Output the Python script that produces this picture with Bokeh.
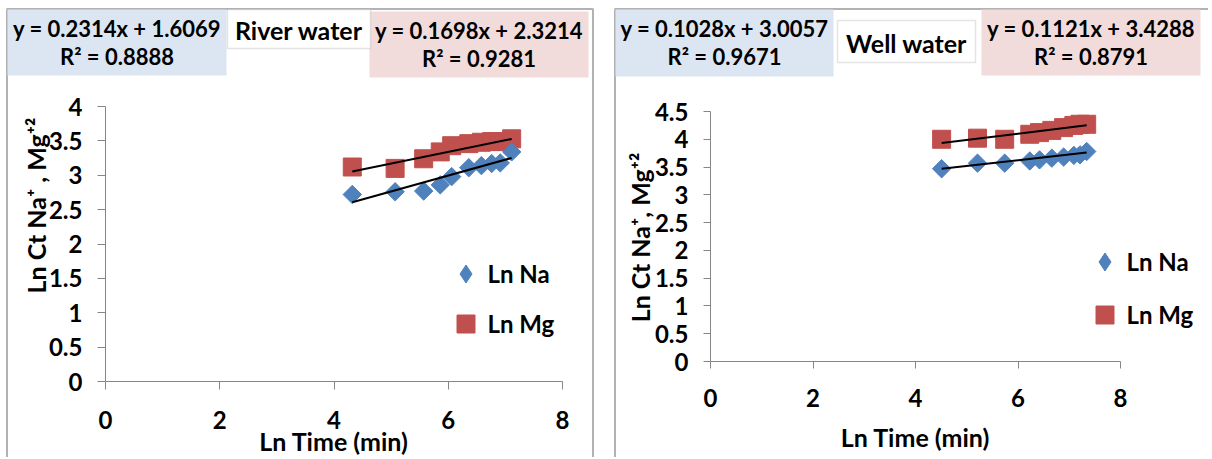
from bokeh.plotting import figure
from bokeh.models import (Range1d, FixedTicker, BoxAnnotation, Label, Legend, LegendItem,
                          ColumnDataSource)
from bokeh.layouts import row
from bokeh.embed import file_html
from bokeh.resources import INLINE
import numpy as np

# ---------------- data ----------------
x_ticks = [0, 2, 4, 6, 8]
x_tick_labels = ["0", "2", "4", "6", "8"]

# River water
river_x = [4.32, 5.07, 5.57, 5.86, 6.06, 6.36, 6.58, 6.76, 6.91, 7.11]
river_na = [2.72, 2.76, 2.77, 2.86, 2.98, 3.11, 3.14, 3.17, 3.18, 3.34]
river_mg = [3.12, 3.10, 3.24, 3.34, 3.43, 3.46, 3.48, 3.49, 3.49, 3.53]
river_fit_na = [0.2314, 1.6069, 0.8888]   # slope, intercept, R2
river_fit_mg = [0.1698, 2.3214, 0.9281]
river_y_ticks = [0, 0.5, 1, 1.5, 2, 2.5, 3, 3.5, 4]
river_y_labels = ["0", "0.5", "1", "1.5", "2", "2.5", "3", "3.5", "4"]

# Well water
well_x = [4.51, 5.21, 5.74, 6.23, 6.42, 6.66, 6.89, 7.09, 7.21, 7.34]
well_na = [3.47, 3.57, 3.57, 3.61, 3.63, 3.66, 3.68, 3.71, 3.72, 3.78]
well_mg = [4.00, 4.02, 4.00, 4.09, 4.12, 4.16, 4.21, 4.25, 4.27, 4.27]
well_fit_na = [0.1028, 3.0057, 0.9671]
well_fit_mg = [0.1121, 3.4288, 0.8791]
well_y_ticks = [0, 0.5, 1, 1.5, 2, 2.5, 3, 3.5, 4, 4.5]
well_y_labels = ["0", "0.5", "1", "1.5", "2", "2.5", "3", "3.5", "4", "4.5"]

NA_COLOR = "#4F81BD"
MG_COLOR = "#C0504D"
BLUE_BOX = "#DCE6F2"
PINK_BOX = "#F2DCDB"
AXIS_GRAY = "#868686"
FONT = "Lato"
H = 457
FS_TICK = "24px"
FS_TITLE = "25px"
FS_BOX = "22px"
FS_HEAD = "25px"
FS_LEG = "24px"


def eq_text(fit):
    return "y = %.4fx + %.4f" % (fit[0], fit[1]), "R\u00b2 = %.4f" % fit[2]


def panel(W, ymax, yticks, ylabels, xs, na, mg, fit_na, fit_mg, title, ytitle, L):
    # L: layout in pixels (top-down) of this panel
    px0, px8 = L["xpix"]
    py0, pytop = L["ypix"]
    sx = (px8 - px0) / 8.0
    sy = (py0 - pytop) / ymax
    p = figure(width=W, height=H, title=None,
               x_range=Range1d(-px0 / sx, (W - px0) / sx),
               y_range=Range1d(-(H - py0) / sy, py0 / sy),
               output_backend="svg", toolbar_location=None,
               min_border_left=0, min_border_right=0,
               min_border_top=0, min_border_bottom=0)
    p.min_border = 0
    p.outline_line_color = None
    p.grid.visible = False
    p.background_fill_color = "white"
    p.border_fill_color = "white"

    xa = p.xaxis[0]
    ya = p.yaxis[0]
    xa.fixed_location = 0
    ya.fixed_location = 0
    xa.bounds = (0, 8)
    ya.bounds = (0, ymax)
    xa.ticker = FixedTicker(ticks=x_ticks)
    xa.major_label_overrides = {t: l for t, l in zip(x_ticks, x_tick_labels)}
    ya.ticker = FixedTicker(ticks=yticks)
    ya.major_label_overrides = {t: l for t, l in zip(yticks, ylabels)}
    for ax in (xa, ya):
        ax.axis_line_color = AXIS_GRAY
        ax.major_tick_line_color = AXIS_GRAY
        ax.minor_tick_line_color = None
        ax.major_tick_in = 0
        ax.major_tick_out = L["tick"]
        ax.major_label_text_font = FONT
        ax.major_label_text_font_style = "bold"
        ax.major_label_text_font_size = FS_TICK
        ax.major_label_text_color = "black"
        ax.axis_label_text_font = FONT
        ax.axis_label_text_font_style = "bold"
        ax.axis_label_text_font_size = FS_TITLE
        ax.axis_label_text_color = "black"
    xa.axis_label = "Ln Time (min)"
    xa.major_label_standoff = L["xlab"]
    xa.axis_label_standoff = L["xtitle"]
    ya.major_label_standoff = L["ylab"]
    ytx, yty = L["ytitle"]
    p.add_layout(Label(x=ytx, y=H - yty, x_units="screen", y_units="screen",
                       text=ytitle, angle=np.pi / 2, text_align="center",
                       text_baseline="middle", text_font=FONT,
                       text_font_style="bold", text_font_size=FS_TITLE,
                       text_color="black"))

    src = ColumnDataSource(dict(x=xs, na=na, mg=mg))
    # series
    r_mg = p.scatter("x", "mg", source=src, marker="square", size=18,
                     fill_color=MG_COLOR, line_color=MG_COLOR)
    r_na = p.scatter("x", "na", source=src, marker="square", angle=np.pi / 4, size=13,
                     fill_color=NA_COLOR, line_color=NA_COLOR)
    # legend-only diamond glyph (no drawable point)
    leg_src = ColumnDataSource(dict(x=[np.nan], y=[np.nan]))
    r_na_leg = p.scatter("x", "y", source=leg_src, marker="diamond",
                         fill_color=NA_COLOR, line_color=NA_COLOR)
    # linear trendlines
    for fit in (fit_na, fit_mg):
        lx = np.array([min(xs), max(xs)])
        p.line(lx, fit[0] * lx + fit[1], line_color="black", line_width=2)

    # legend
    (lcx, lcy), gap = L["legend"]
    lg = Legend(items=[LegendItem(label="Ln Na", renderers=[r_na_leg]),
                       LegendItem(label="Ln Mg", renderers=[r_mg])],
                location=(lcx - 22.5, H - (lcy - 22.5 + 90 + gap)),
                glyph_width=45, glyph_height=45, padding=0, margin=0, spacing=gap,
                label_standoff=0, border_line_color=None,
                background_fill_alpha=0, label_text_font=FONT,
                label_text_font_style="bold", label_text_font_size=FS_LEG,
                label_text_color="black")
    p.add_layout(lg)

    def sbox(l, t, r, b, **kw):
        return BoxAnnotation(left=l, right=r, top=H - t, bottom=H - b,
                             left_units="screen", right_units="screen",
                             top_units="screen", bottom_units="screen",
                             level="overlay", **kw)

    def slabel(x, y, txt, fs):
        return Label(x=x, y=H - y, x_units="screen", y_units="screen", text=txt,
                     text_align="center", text_baseline="middle",
                     text_font=FONT, text_font_style="bold",
                     text_font_size=fs, text_color="black", level="overlay")

    # panel border
    bl, bt, br = L["border"]
    p.add_layout(sbox(bl, bt, br, H + 30, fill_alpha=0, line_color="black",
                      line_width=2))
    # text boxes
    b1, b2, b3 = L["boxes"]
    p.add_layout(sbox(*b1, fill_color=BLUE_BOX, fill_alpha=1, line_color=None))
    p.add_layout(sbox(*b3, fill_color=PINK_BOX, fill_alpha=1, line_color=None))
    p.add_layout(sbox(*b2, fill_color="white", fill_alpha=1, line_color="#A6A6A6",
                      line_width=1.5))
    for (l, t, r, b), fit in ((b1, fit_na), (b3, fit_mg)):
        l1, l2 = eq_text(fit)
        cx = (l + r) / 2
        p.add_layout(slabel(cx, t + 19, l1, FS_BOX))
        p.add_layout(slabel(cx, t + 47, l2, FS_BOX))
    l, t, r, b = b2
    p.add_layout(slabel((l + r) / 2, (t + b) / 2 + 1, title, FS_HEAD))
    return p


p1 = panel(598, 4, river_y_ticks, river_y_labels, river_x, river_na, river_mg,
           river_fit_na, river_fit_mg, "River water", "Ln Ct Na\u207a , Mg\u207a\u00b2",
           dict(xpix=(105, 562), ypix=(381, 106), tick=8, xlab=21, xtitle=-6,
                ylab=15, ytitle=(35, 205),
                legend=((465, 273), 5),
                border=(6.5, 8.5, 592.5),
                boxes=((7, 9, 226, 75), (227, 9, 370, 48), (369, 11, 588, 77))))

p2 = panel(602, 4.5, well_y_ticks, well_y_labels, well_x, well_na, well_mg,
           well_fit_na, well_fit_mg, "Well water", "Ln Ct Na\u207a, Mg\u207a\u00b2",
           dict(xpix=(104, 514), ypix=(361, 111), tick=7, xlab=20, xtitle=12,
                ylab=15, ytitle=(33, 237),
                legend=((498, 261), 8),
                border=(8.5, 8.5, 640),
                boxes=((9, 9, 227, 76), (231, 20, 369, 62), (375, 9, 594, 75))))

layout = row(p1, p2, spacing=8)
open("out.html", "w").write(file_html(layout, INLINE))
